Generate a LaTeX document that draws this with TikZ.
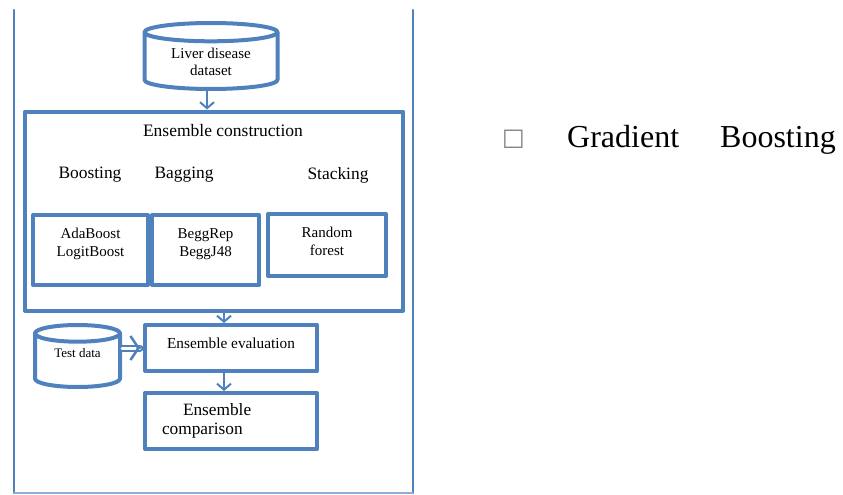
\documentclass[tikz,border=0pt]{standalone}
\usepackage{fontspec}
\setmainfont{Liberation Serif}
\newfontfamily\symfont{DejaVu Sans}
\usetikzlibrary{arrows.meta,positioning,shapes.geometric}
\definecolor{boxblue}{RGB}{79,129,189}
\definecolor{frameblue}{RGB}{140,175,218}
\newcommand{\dbtext}[2][0pt]{\smash{\raisebox{#1}{\begin{tabular}{@{}c@{}}#2\end{tabular}}}}

\begin{document}
\begin{tikzpicture}[line cap=round,line join=round,x=1pt,y=-1pt,
		box/.style={draw=boxblue,line width=4pt,rectangle,inner sep=0pt},
		db/.style={draw=boxblue,line width=4pt,cylinder,shape border rotate=90,inner sep=0pt,anchor=north},
		arr/.style={draw=boxblue,line width=2pt,-{Straight Barb[length=6pt,width=14pt]}},
		dblarr/.style={draw=boxblue,double=white,double distance=3pt,line width=2pt,shorten >=3pt,
			postaction={draw=boxblue,line width=2.5pt,shorten <=18pt,-{Straight Barb[length=8pt,width=24pt]}}},
		inbox/.style={anchor=north,align=center,font=\fontsize{15}{18}\selectfont,inner sep=5pt,yshift=-10pt},
		grp/.style={font=\fontsize{17.4}{20}\selectfont}]
				\useasboundingbox (0,0) rectangle (843,495);
				% Rahmen
				\draw[boxblue,line width=2.5pt] (14,10)--(14,493);
				\draw[boxblue,line width=2.5pt] (413,10)--(413,493);
				\draw[frameblue,line width=1.5pt] (14,493)--(413,493);
				% Etage 1
				\node[db,aspect=0.23,minimum width=133pt,minimum height=66pt,font=\fontsize{15}{17}\selectfont] (liver) at (211,21) {\dbtext[-6pt]{Liver disease\\dataset}};
				% Etage 2
				\node[box,minimum width=378pt,minimum height=199pt] (constr) at (214,211) {};
				\node[font=\fontsize{17.5}{20}\selectfont] (constrtitle) at (223,131) {Ensemble construction};
				\node[grp] (boost) at (90,175) {Boosting};
				\node[grp] (bagg) at (184,175) {Bagging};
				\node[grp] (stack) at (338,175) {Stacking};
				\node[box,minimum width=115pt,minimum height=70pt,label={[inbox]north:{AdaBoost\\LogitBoost}}] (ada) at (90.5,250) {};
				\node[box,minimum width=107pt,minimum height=70pt,label={[inbox]north:{BeggRep\\BeggJ48}}] (begg) at (205.5,250) {};
				\node[box,minimum width=118pt,minimum height=62pt,label={[inbox]north:{Random\\forest}}] (rf) at (327,245) {};
				% Etage 3
				\node[db,aspect=0.36,minimum width=85pt,minimum height=62pt,font=\fontsize{13}{15}\selectfont] (test) at (77.5,323) {\dbtext[4pt]{Test data}};
				\node[box,minimum width=172pt,minimum height=46pt,text depth=9pt,font=\fontsize{15.3}{18}\selectfont] (eval) at (231,348) {Ensemble evaluation};
				\node[box,minimum width=172pt,minimum height=56pt,inner xsep=17pt,text width=138pt,align=left,font=\fontsize{17.3}{19}\selectfont] (comp) at (231,421) {\hspace*{21pt}Ensemble\\comparison};
				% Pfeile
				\draw[arr] ([xshift=-4pt]liver.south) -- ([xshift=-4pt]liver.south |- constr.north);
				\draw[arr] ([xshift=-7pt]eval.north |- constr.south) -- ([xshift=-7pt]eval.north);
				\draw[arr] ([xshift=-7pt]eval.south) -- ([xshift=-7pt]comp.north);
				\draw[dblarr] (test.east |- eval.west) -- (eval.west);
				% rechts
				\node[font=\fontsize{24}{24}\selectfont\symfont,text=gray,inner sep=0pt] (sq) at (513.5,139) {□};
				\node[anchor=base west,inner sep=0pt,font=\fontsize{32}{36}\selectfont] (gb) at (567,147.5) {Gradient\hspace{41pt}Boosting};
		\end{tikzpicture}
\end{document}
